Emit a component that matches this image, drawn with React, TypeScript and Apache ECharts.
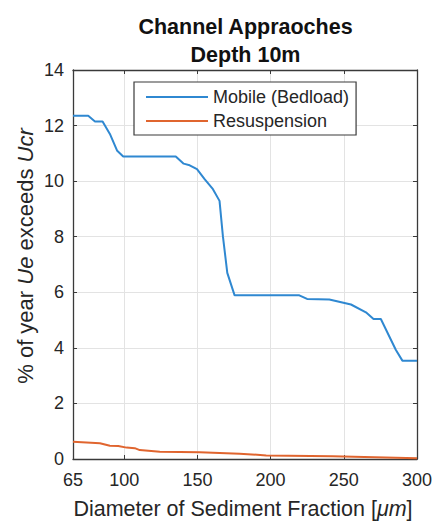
import React, { useEffect, useRef } from "react";
import * as echarts from "echarts";

const xTickValues = [65, 100, 150, 200, 250, 300];
const yMin = 0;
const yMax = 14;
const yStep = 2;

const mobileX = [65, 75.4, 80, 85.2, 90.2, 95.2, 99.3, 135.2, 140.6, 144.7, 149.7, 154.9, 160.6, 165.1, 167.4, 170.4, 175.4, 219.6, 224.9, 240.1, 254.9, 265.1, 270.3, 275.3, 285.5, 290, 300];
const mobileY = [12.35, 12.35, 12.15, 12.15, 11.7, 11.09, 10.89, 10.89, 10.63, 10.57, 10.43, 10.07, 9.71, 9.29, 8.02, 6.7, 5.89, 5.89, 5.76, 5.74, 5.56, 5.28, 5.04, 5.04, 3.93, 3.54, 3.54];

const resX = [65, 83.4, 90.2, 95.9, 101.6, 107.2, 110.6, 124.3, 151.5, 178.8, 197, 242.3, 300];
const resY = [0.62, 0.57, 0.48, 0.47, 0.41, 0.39, 0.32, 0.26, 0.24, 0.19, 0.13, 0.1, 0.03];

const seriesNames = ["Mobile (Bedload)", "Resuspension"];
const titleLines = ["Channel Appraoches", "Depth 10m"];
const xLabel = "Diameter of Sediment Fraction [{i|μm}]";
const yLabel = "% of year {i|Ue} exceeds {i|Ucr}";

const FONT = "'Liberation Sans', Arial, Helvetica, sans-serif";
const TXT = "#262626";
const FRAME = "#3a3a3a";
const GRID = "#e3e3e3";
const BLUE = "#2f88d1";
const ORANGE = "#e0652f";

export default function App() {
  const ref = useRef<HTMLDivElement>(null);
  useEffect(() => {
    if (!ref.current) return;
    const chart = echarts.init(ref.current, null, { renderer: "svg" });
    const xMin = xTickValues[0];
    const xMax = xTickValues[xTickValues.length - 1];
    const frameLine = { show: true, onZero: false, lineStyle: { color: FRAME, width: 1.3 } };
    const option: any = {
      animation: false,
      backgroundColor: "#ffffff",
      grid: { left: 73, right: 21, top: 70, bottom: 62, containLabel: false },
      legend: {
        data: seriesNames.map((n) => ({ name: n, icon: "rect" })),
        orient: "vertical",
        left: 134,
        top: 82,
        padding: [6, 7, 5, 12],
        itemGap: 6,
        itemWidth: 62,
        itemHeight: 2,
        borderColor: FRAME,
        borderWidth: 1.2,
        borderRadius: 0,
        backgroundColor: "#fff",
        textStyle: { fontFamily: FONT, fontSize: 18, color: TXT, lineHeight: 18 },
      },
      xAxis: [
        {
          type: "value",
          min: xMin,
          max: xMax,
          position: "bottom",
          axisLine: frameLine,
          axisTick: { show: true, inside: true, length: 4, customValues: xTickValues, lineStyle: { color: FRAME } },
          axisLabel: { show: true, customValues: xTickValues, margin: 12, fontFamily: FONT, fontSize: 18, color: TXT },
          splitLine: { show: true, lineStyle: { color: GRID, width: 1 } },
        },
        {
          type: "value",
          min: xMin,
          max: xMax,
          position: "top",
          axisLine: frameLine,
          axisTick: { show: true, inside: true, length: 4, customValues: xTickValues, lineStyle: { color: FRAME } },
          axisLabel: { show: false },
          splitLine: { show: false },
        },
      ],
      yAxis: [
        {
          type: "value",
          min: yMin,
          max: yMax,
          interval: yStep,
          position: "left",
          axisLine: frameLine,
          axisTick: { show: true, inside: true, length: 4, lineStyle: { color: FRAME } },
          axisLabel: { show: true, margin: 9, fontFamily: FONT, fontSize: 18, color: TXT },
          splitLine: { show: true, lineStyle: { color: GRID, width: 1 } },
        },
        {
          type: "value",
          min: yMin,
          max: yMax,
          interval: yStep,
          position: "right",
          axisLine: frameLine,
          axisTick: { show: true, inside: true, length: 4, lineStyle: { color: FRAME } },
          axisLabel: { show: false },
          splitLine: { show: false },
        },
      ],
      series: [
        {
          name: seriesNames[0],
          type: "line",
          xAxisIndex: 0,
          yAxisIndex: 0,
          symbol: "none",
          data: mobileX.map((x, i) => [x, mobileY[i]]),
          lineStyle: { color: BLUE, width: 2 },
          itemStyle: { color: BLUE },
        },
        {
          name: seriesNames[1],
          type: "line",
          xAxisIndex: 0,
          yAxisIndex: 0,
          symbol: "none",
          data: resX.map((x, i) => [x, resY[i]]),
          lineStyle: { color: ORANGE, width: 2 },
          itemStyle: { color: ORANGE },
        },
      ],
      graphic: [
        {
          type: "text",
          x: 245.5,
          y: 27,
          style: { text: titleLines[0], fontFamily: FONT, fontSize: 21.5, fontWeight: "bold", fill: "#111", textAlign: "center", textVerticalAlign: "middle" },
        },
        {
          type: "text",
          x: 245.5,
          y: 55,
          style: { text: titleLines[1], fontFamily: FONT, fontSize: 21.5, fontWeight: "bold", fill: "#111", textAlign: "center", textVerticalAlign: "middle" },
        },
        {
          type: "text",
          x: 243,
          y: 508.5,
          style: {
            text: xLabel,
            fontFamily: FONT,
            fontSize: 21.5,
            fill: TXT,
            textAlign: "center",
            textVerticalAlign: "middle",
            rich: { i: { fontFamily: FONT, fontSize: 21.5, fontStyle: "italic", fill: TXT } },
          },
        },
        {
          type: "text",
          x: 25,
          y: 256,
          rotation: Math.PI / 2,
          style: {
            text: yLabel,
            fontFamily: FONT,
            fontSize: 22,
            fill: TXT,
            textAlign: "center",
            textVerticalAlign: "middle",
            rich: { i: { fontFamily: FONT, fontSize: 22, fontStyle: "italic", fill: TXT } },
          },
        },
      ],
    };
    chart.setOption(option);
    return () => chart.dispose();
  }, []);
  return (
    <div
      ref={ref}
      style={{ position: "fixed", left: 0, top: 0, width: 438, height: 521 }}
    />
  );
}
